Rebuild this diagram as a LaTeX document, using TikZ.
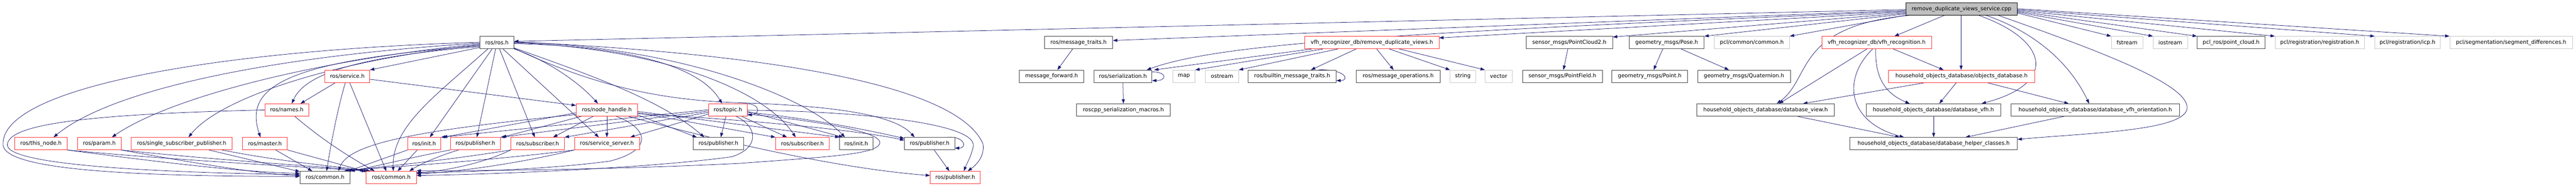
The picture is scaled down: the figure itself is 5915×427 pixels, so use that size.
\documentclass[tikz,border=0pt]{standalone}
\usepackage{fontspec}
\setmainfont{DejaVu Sans}
\usetikzlibrary{arrows.meta,backgrounds}
\definecolor{edgec}{HTML}{191970}
\definecolor{redb}{HTML}{FF3030}
\definecolor{blkb}{HTML}{404040}
\definecolor{grayb}{HTML}{C8C8C8}
\definecolor{rootf}{HTML}{BFBFBF}
\tikzset{
 nbase/.style={rectangle, minimum height=28.3pt, inner sep=0pt, line width=1pt, text=black, fill=white, font=\fontsize{12.4pt}{15pt}\selectfont},
 nblk/.style={nbase, draw=blkb},
 nred/.style={nbase, draw=redb},
 ngry/.style={nbase, draw=grayb},
 nroot/.style={nbase, draw=black, fill=rootf},
 dep/.style={draw=edgec, line width=0.9pt, -{Triangle[length=10pt,width=7pt]}},
}
\newcommand\nd[6]{\node[#5, minimum width={#3-#2}] (#1) at ({(#2+#3)/2},#4) {#6};}
\begin{document}
\begin{tikzpicture}[x=1pt,y=-1pt]
\useasboundingbox (0,0) rectangle (5915,427);
% ---------- nodes ----------
\nd{root}{4376}{4632}{20.5}{nroot}{remove\_duplicate\_views\_service.cpp}
\nd{rosh}{1102}{1180}{97.8}{nblk}{ros/ros.h}
\nd{mtraits}{2398}{2555}{97.8}{nblk}{ros/message\_traits.h}
\nd{rdv}{2996}{3304}{97.8}{nred}{vfh\_recognizer\_db/remove\_duplicate\_views.h}
\nd{pc2}{3504}{3703}{97.8}{nblk}{sensor\_msgs/PointCloud2.h}
\nd{pose}{3741}{3913}{97.8}{nblk}{geometry\_msgs/Pose.h}
\nd{pclcommon}{3936}{4109}{97.8}{ngry}{pcl/common/common.h}
\nd{vfhrec}{4183}{4435}{97.8}{nred}{vfh\_recognizer\_db/vfh\_recognition.h}
\nd{fstream}{4848}{4920}{97.8}{ngry}{fstream}
\nd{iostream}{4944}{5023}{97.8}{ngry}{iostream}
\nd{pclros}{5045}{5201}{97.8}{nblk}{pcl\_ros/point\_cloud.h}
\nd{reg}{5224}{5429}{97.8}{ngry}{pcl/registration/registration.h}
\nd{icp}{5453}{5603}{97.8}{ngry}{pcl/registration/icp.h}
\nd{segdiff}{5625}{5907}{97.8}{ngry}{pcl/segmentation/segment\_differences.h}
\nd{service}{746}{849}{175.2}{nred}{ros/service.h}
\nd{mfwd}{2341}{2488}{175.2}{nblk}{message\_forward.h}
\nd{serial}{2512}{2645}{175.2}{nblk}{ros/serialization.h}
\nd{map}{2693}{2744}{175.2}{ngry}{map}
\nd{ostream}{2768}{2844}{175.2}{ngry}{ostream}
\nd{builtin}{2866}{3068}{175.2}{nblk}{ros/builtin\_message\_traits.h}
\nd{msgops}{3114}{3307}{175.2}{nblk}{ros/message\_operations.h}
\nd{string}{3330}{3388}{175.2}{ngry}{string}
\nd{vector}{3410}{3472}{175.2}{ngry}{vector}
\nd{pfield}{3496}{3679}{175.2}{nblk}{sensor\_msgs/PointField.h}
\nd{point}{3701}{3875}{175.2}{nblk}{geometry\_msgs/Point.h}
\nd{quat}{3898}{4111}{175.2}{nblk}{geometry\_msgs/Quaternion.h}
\nd{objdb}{4336}{4672}{175.2}{nred}{household\_objects\_database/objects\_database.h}
\nd{names}{608}{709}{252.5}{nred}{ros/names.h}
\nd{nh}{1323}{1464}{252.5}{nred}{ros/node\_handle.h}
\nd{topic}{1627}{1716}{252.5}{nred}{ros/topic.h}
\nd{macros}{2472}{2687}{252.5}{nblk}{roscpp\_serialization\_macros.h}
\nd{dbview}{3896}{4212}{252.5}{nblk}{household\_objects\_database/database\_view.h}
\nd{dbvfh}{4285}{4594}{252.5}{nblk}{household\_objects\_database/database\_vfh.h}
\nd{dbvfho}{4618}{5004}{252.5}{nblk}{household\_objects\_database/database\_vfh\_orientation.h}
\nd{thisnode}{34}{154}{329.8}{nred}{ros/this\_node.h}
\nd{param}{178}{278}{329.8}{nred}{ros/param.h}
\nd{ssp}{301}{533}{329.8}{nred}{ros/single\_subscriber\_publisher.h}
\nd{master}{557}{660}{329.8}{nred}{ros/master.h}
\nd{initA}{936}{1012}{329.8}{nred}{ros/init.h}
\nd{pubA}{1034}{1149}{329.8}{nred}{ros/publisher.h}
\nd{subA}{1173}{1296}{329.8}{nred}{ros/subscriber.h}
\nd{srvsrv}{1319}{1468}{329.8}{nred}{ros/service\_server.h}
\nd{pubB}{1592}{1707}{329.8}{nblk}{ros/publisher.h}
\nd{subB}{1781}{1904}{329.8}{nred}{ros/subscriber.h}
\nd{initB}{1928}{2004}{329.8}{nblk}{ros/init.h}
\nd{pubC}{2077}{2192}{329.8}{nblk}{ros/publisher.h}
\nd{helper}{4248}{4632}{329.8}{nblk}{household\_objects\_database/database\_helper\_classes.h}
\nd{comA}{689}{804}{407.5}{nblk}{ros/common.h}
\nd{comB}{841}{956}{407.5}{nred}{ros/common.h}
\nd{pubD}{2136}{2251}{407.5}{nred}{ros/publisher.h}
% ---------- edges ----------
\begin{scope}[on background layer]
% root
\draw[dep] (root.west |- 0,22) -- (rosh.east |- 0,95);
\draw[dep] (root.west |- 0,24) -- (mtraits.east |- 0,93);
\draw[dep] (root.west |- 0,26) .. controls (3200,75) and (2800,100) .. (serial.north -| 2633,0);
\draw[dep] (root.west |- 0,28) -- (rdv.east |- 0,87);
\draw[dep] (root.west |- 0,30) -- (pc2.east |- 0,85);
\draw[dep] (root.west |- 0,32) -- (pose.north east);
\draw[dep] (root.south west) -- (pclcommon.north east);
\draw[dep] (root.south -| 4385,0) .. controls (4120,60) and (4160,180) .. (dbview.north -| 4080,0);
\draw[dep] (root.south -| 4465,0) -- (vfhrec.north -| 4350,0);
\draw[dep] (root.south -| 4503,0) -- (objdb.north -| 4503,0);
\draw[dep] (root.south -| 4543,0) .. controls (4700,90) and (4730,190) .. (dbvfh.north -| 4550,0);
\draw[dep] (root.south -| 4560,0) .. controls (4690,80) and (4760,160) .. (dbvfho.north -| 4797,0);
\draw[dep] (root.south -| 4588,0) .. controls (4800,110) and (5022,190) .. (5022,247) .. controls (5022,300) and (4800,305) .. (helper.east |- 0,320);
\draw[dep] (root.east |- 0,30) -- (fstream.north west);
\draw[dep] (root.east |- 0,28) -- (iostream.north west);
\draw[dep] (root.east |- 0,26) -- (pclros.north west);
\draw[dep] (root.east |- 0,24) -- (reg.north west);
\draw[dep] (root.east |- 0,22) -- (icp.north west);
\draw[dep] (root.east |- 0,20) -- (segdiff.north west);
% remove_duplicate_views.h
\draw[dep] (rdv.south -| 3012,0) -- (serial.north -| 2650,0);
\draw[dep] (rdv.south -| 3038,0) -- (map.north east);
\draw[dep] (rdv.south -| 3072,0) -- (ostream.north east);
\draw[dep] (rdv.south -| 3114,0) -- (builtin.north -| 3010,0);
\draw[dep] (rdv.south -| 3161,0) -- (msgops.north -| 3200,0);
\draw[dep] (rdv.south -| 3190,0) -- (string.north west);
\draw[dep] (rdv.south -| 3213,0) -- (vector.north west);
% serialization / traits
\draw[dep] (serial.south) -- (macros.north);
\draw[dep] (serial.east |- 0,165) .. controls (2680,165) and (2680,185) .. (serial.east |- 0,185);
\draw[dep] (builtin.north -| 3027,0) .. controls (3090,158) and (3100,185) .. (builtin.east |- 0,185);
\draw[dep] (mtraits.south -| 2463,0) -- (mfwd.north -| 2428,0);
\draw[dep] (pc2.south -| 3600,0) -- (pfield.north -| 3590,0);
\draw[dep] (pose.south -| 3818,0) -- (point.north -| 3797,0);
\draw[dep] (pose.south -| 3860,0) -- (quat.north -| 3970,0);
% database part
\draw[dep] (vfhrec.south -| 4287,0) -- (dbview.north -| 4085,0);
\draw[dep] (vfhrec.south -| 4300,0) .. controls (4230,180) and (4240,280) .. (helper.north -| 4372,0);
\draw[dep] (vfhrec.south -| 4307,0) .. controls (4305,180) and (4330,215) .. (dbvfh.north -| 4385,0);
\draw[dep] (vfhrec.south -| 4347,0) -- (objdb.north -| 4463,0);
\draw[dep] (objdb.south -| 4420,0) -- (dbview.north -| 4140,0);
\draw[dep] (objdb.south -| 4492,0) -- (dbvfh.north -| 4453,0);
\draw[dep] (objdb.south -| 4563,0) -- (dbvfho.north -| 4750,0);
\draw[dep] (dbview.south -| 4127,0) -- (helper.north -| 4362,0);
\draw[dep] (dbvfh.south -| 4440,0) -- (helper.north -| 4440,0);
\draw[dep] (dbvfho.south -| 4740,0) -- (helper.north -| 4513,0);
% ros/ros.h
\draw[dep] (rosh.west |- 0,99) .. controls (600,130) and (250,210) .. (thisnode.north -| 123,0);
\draw[dep] (rosh.west |- 0,101) .. controls (700,140) and (380,230) .. (param.north -| 257,0);
\draw[dep] (rosh.west |- 0,103) .. controls (750,140) and (500,230) .. (ssp.north -| 433,0);
\draw[dep] (rosh.west |- 0,97) .. controls (500,115) and (0,200) .. (7,333) .. controls (12,390) and (300,405) .. (comA.west |- 0,405);
\draw[dep] (rosh.west |- 0,105) .. controls (650,140) and (560,200) .. (master.north -| 598,0);
\draw[dep] (rosh.west |- 0,107) .. controls (820,130) and (700,170) .. (names.north -| 670,0);
\draw[dep] (rosh.west |- 0,109) -- (service.north east);
\draw[dep] (rosh.south -| 1120,0) .. controls (1000,220) and (900,290) .. (comB.north -| 903,0);
\draw[dep] (rosh.south -| 1130,0) -- (initA.north -| 987,0);
\draw[dep] (rosh.south -| 1138,0) -- (pubA.north -| 1095,0);
\draw[dep] (rosh.south -| 1147,0) -- (subA.north -| 1228,0);
\draw[dep] (rosh.south -| 1155,0) -- (srvsrv.north -| 1375,0);
\draw[dep] (rosh.south east) .. controls (1260,140) and (1330,190) .. (nh.north -| 1373,0);
\draw[dep] (rosh.east |- 0,100) .. controls (1400,105) and (1600,140) .. (topic.north -| 1658,0);
\draw[dep] (rosh.east |- 0,98) .. controls (1500,110) and (1750,200) .. (subB.north -| 1827,0);
\draw[dep] (rosh.east |- 0,97) .. controls (1550,105) and (1850,220) .. (initB.north -| 1940,0);
\draw[dep] (rosh.east |- 0,96) .. controls (1800,125) and (2200,200) .. (2257,330) .. controls (2262,360) and (2240,380) .. (pubD.north -| 2222,0);
\draw[dep] (rosh.east |- 0,110) .. controls (1350,170) and (1520,230) .. (pubB.north -| 1617,0);
\draw[dep] (rosh.east |- 0,111) .. controls (1350,190) and (1500,230) .. (1700,236) .. controls (1950,244) and (2060,270) .. (pubC.north -| 2100,0);
% names, service
\draw[dep] (names.west) .. controls (200,262) and (17,285) .. (17,333) .. controls (17,375) and (300,395) .. (comA.west |- 0,401);
\draw[dep] (names.south -| 677,0) .. controls (750,330) and (820,370) .. (comB.north -| 860,0);
\draw[dep] (service.south -| 770,0) -- (names.north -| 690,0);
\draw[dep] (service.south -| 793,0) .. controls (775,250) and (760,330) .. (comA.north -| 750,0);
\draw[dep] (service.south -| 803,0) -- (comB.north -| 887,0);
\draw[dep] (service.east |- 0,182) -- (nh.west |- 0,242);
% node_handle.h
\draw[dep] (nh.south) -- (srvsrv.north);
\draw[dep] (nh.south -| 1362,0) -- (subA.north -| 1270,0);
\draw[dep] (nh.south -| 1335,0) -- (pubA.north -| 1153,0);
\draw[dep] (nh.west |- 0,259) -- (initA.north -| 1017,0);
\draw[dep] (nh.west |- 0,263) .. controls (950,300) and (800,330) .. (comA.north -| 777,0);
\draw[dep] (nh.east |- 0,264) -- (pubB.north -| 1600,0);
\draw[dep] (nh.east |- 0,259) -- (subB.north west);
\draw[dep] (nh.east |- 0,256) -- (initB.north west);
\draw[dep] (nh.east |- 0,261) .. controls (1800,280) and (2000,305) .. (pubC.west |- 0,322);
\draw[dep] (nh.south -| 1443,0) .. controls (1600,310) and (1900,385) .. (pubD.west |- 0,403);
\draw[dep] (nh.south -| 1415,0) .. controls (1490,295) and (1500,345) .. (1400,370) .. controls (1250,390) and (1050,395) .. (comB.east |- 0,397);
% topic.h
\draw[dep] (topic.south -| 1667,0) -- (pubB.north -| 1655,0);
\draw[dep] (topic.south -| 1703,0) -- (subB.north -| 1807,0);
\draw[dep] (topic.north -| 1706,0) .. controls (1745,235) and (1748,262) .. (topic.east |- 0,264);
\draw[dep] (topic.east |- 0,256) -- (initB.north -| 1936,0);
\draw[dep] (topic.east |- 0,258) .. controls (1850,270) and (2000,300) .. (pubC.west |- 0,318);
\draw[dep] (topic.east |- 0,253) .. controls (1950,255) and (2240,280) .. (2235,335) .. controls (2230,360) and (2220,375) .. (pubD.north -| 2213,0);
\draw[dep] (topic.south -| 1690,0) .. controls (1740,290) and (1745,340) .. (1680,360) .. controls (1500,385) and (1150,400) .. (comB.east |- 0,403);
\draw[dep] (topic.east |- 0,262) .. controls (1850,275) and (2030,300) .. (2020,330) .. controls (2010,355) and (1900,360) .. (1700,375) .. controls (1400,390) and (1100,392) .. (comB.east |- 0,392);
\draw[dep] (topic.west |- 0,252) -- (initA.north east);
\draw[dep] (topic.west |- 0,255) -- (pubA.north east);
\draw[dep] (topic.west |- 0,258) -- (subA.north east);
\draw[dep] (topic.west |- 0,262) -- (srvsrv.north -| 1447,0);
% pub loop
\draw[dep] (pubC.north -| 2175,0) .. controls (2215,312) and (2222,340) .. (pubC.east |- 0,340);
\draw[dep] (pubC.south -| 2145,0) -- (pubD.north -| 2180,0);
% row 4 to common
\draw[dep] (thisnode.south east) .. controls (350,370) and (550,395) .. (comA.west |- 0,398);
\draw[dep] (thisnode.south east) .. controls (400,368) and (700,383) .. (comB.north west);
\draw[dep] (param.south east) .. controls (450,375) and (600,400) .. (comA.west |- 0,403);
\draw[dep] (param.south east) .. controls (500,368) and (750,383) .. (comB.north -| 846,0);
\draw[dep] (ssp.south -| 480,0) -- (comA.west |- 0,394);
\draw[dep] (ssp.south -| 510,0) .. controls (650,372) and (780,383) .. (comB.north -| 851,0);
\draw[dep] (master.south -| 633,0) -- (comA.north -| 717,0);
\draw[dep] (master.south east) -- (comB.north -| 837,0);
\draw[dep] (initA.south west) -- (comA.north -| 800,0);
\draw[dep] (initA.south -| 958,0) -- (comB.north -| 913,0);
\draw[dep] (pubA.south west) .. controls (950,360) and (850,385) .. (comA.north east);
\draw[dep] (pubA.south -| 1053,0) .. controls (1000,360) and (960,380) .. (comB.north -| 940,0);
\draw[dep] (subA.south west) .. controls (1000,372) and (850,385) .. (comA.north -| 795,0);
\draw[dep] (subA.south west) .. controls (1100,380) and (1000,395) .. (comB.east |- 0,396);
\draw[dep] (srvsrv.south west) .. controls (1100,372) and (850,386) .. (comA.north -| 790,0);
\draw[dep] (srvsrv.south west) .. controls (1150,385) and (1000,398) .. (comB.east |- 0,399);
\end{scope}
\end{tikzpicture}
\end{document}
